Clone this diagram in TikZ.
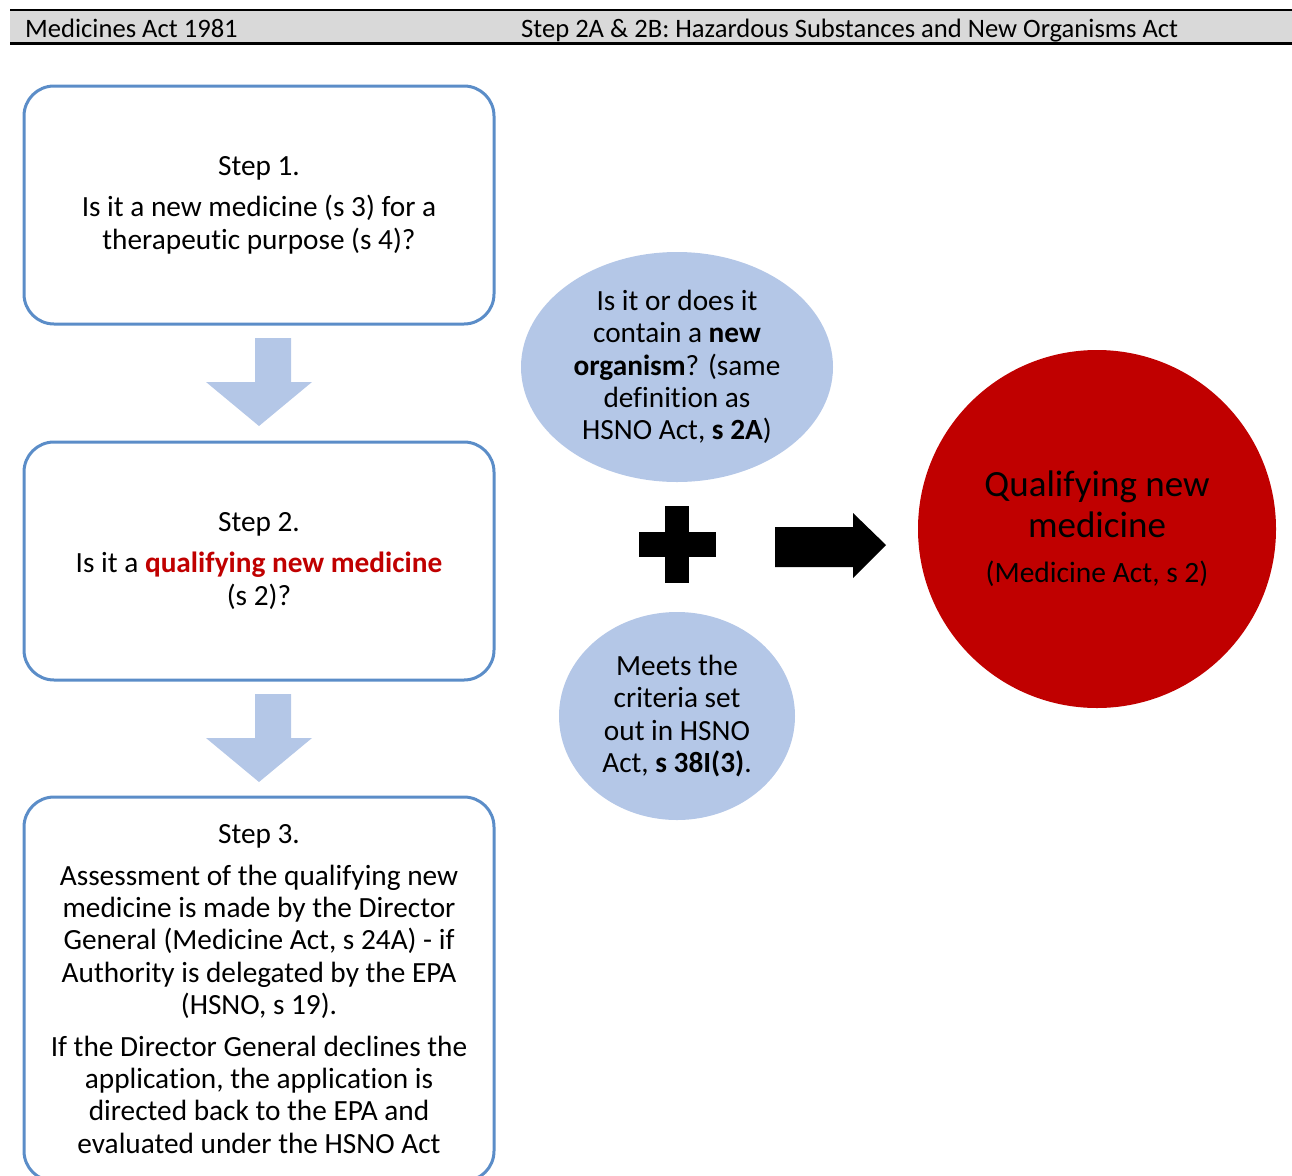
\documentclass[tikz,border=0pt]{standalone}
\usepackage{fontspec}
\setmainfont{Carlito}[Ligatures=NoCommon]
\usetikzlibrary{shapes.geometric}
\definecolor{boxblue}{HTML}{5B8DC8}
\definecolor{lightblue}{HTML}{B4C7E7}
\definecolor{darkred}{HTML}{C00000}
\definecolor{hdrgray}{HTML}{D9D9D9}
\tikzset{
  stepbox/.style={draw=boxblue, line width=3pt, rounded corners=30pt, fill=white,
    minimum width=470pt, align=center, inner sep=0pt,
    font=\fontsize{29.3}{32.4}\selectfont},
  bubble/.style={ellipse, fill=lightblue, inner sep=0pt, align=center,
    font=\fontsize{29.3}{32.4}\selectfont},
  downarrow/.style={fill=lightblue},
  hdrtext/.style={anchor=base west, inner sep=0pt, font=\fontsize{26.6}{30}\selectfont}
}
\begin{document}
\begin{tikzpicture}[x=1pt,y=-1pt]
\useasboundingbox (0,0) rectangle (1292,1175);
\begin{scope}
\clip (0,0) rectangle (1292,1175);
% header
\fill[hdrgray] (10,10) rectangle (1292,43);
\draw[line width=2pt] (10,10) -- (1292,10);
\draw[line width=3pt] (10,43) -- (1292,43);
\node[hdrtext] (h1) at (25,37) {Medicines Act 1981};
\node[hdrtext] (h2) at (521,37) {Step 2A \& 2B: Hazardous Substances and New Organisms Act};
% step boxes
\node[stepbox, minimum height=238pt] (s1) at (259,205) {Step 1.\\[9pt]Is it a new medicine (s 3) for a\\therapeutic purpose (s 4)?};
\node[stepbox, minimum height=238pt] (s2) at (259,561) {Step 2.\\[9pt]Is it a \textcolor{darkred}{\textbf{qualifying new medicine}}\\(s 2)?};
\node[stepbox, minimum height=384pt] (s3) at (259,989) {Step 3.\\[9pt]Assessment of the qualifying new\\medicine is made by the Director\\General (Medicine Act, s 24A) - if\\Authority is delegated by the EPA\\(HSNO, s 19).\\[9pt]If the Director General declines the\\application, the application is\\directed back to the EPA and\\evaluated under the HSNO Act};
% down arrows
\fill[downarrow] (255,338) -- (291,338) -- (291,382) -- (312,382) -- (259,426) -- (206,382) -- (255,382) -- cycle;
\fill[downarrow] (255,694) -- (291,694) -- (291,738) -- (312,738) -- (259,782) -- (206,738) -- (255,738) -- cycle;
% ellipses
\node[bubble, minimum width=312pt, minimum height=230pt] (e1) at (677,367) {Is it or does it\\contain a \textbf{new}\\\textbf{organism}? (same\\definition as\\HSNO Act, \textbf{s 2A})};
\node[bubble, minimum width=236pt, minimum height=208pt] (e2) at (677,716) {Meets the\\criteria set\\out in HSNO\\Act, \textbf{s 38I(3)}.};
% plus
\fill[black] (665,506) rectangle (689,583);
\fill[black] (639,532) rectangle (716,557);
% right arrow
\fill[black] (775,527) -- (853,527) -- (853,513) -- (886,545) -- (853,578) -- (853,567) -- (775,567) -- cycle;
% red circle
\node[circle, fill=darkred, minimum size=358pt, inner sep=0pt, align=center, font=\fontsize{37}{41}\selectfont] (q) at (1097,529) {Qualifying new\\medicine\\[4pt]\fontsize{29.5}{32}\selectfont (Medicine Act, s 2)};
\end{scope}
\end{tikzpicture}
\end{document}
